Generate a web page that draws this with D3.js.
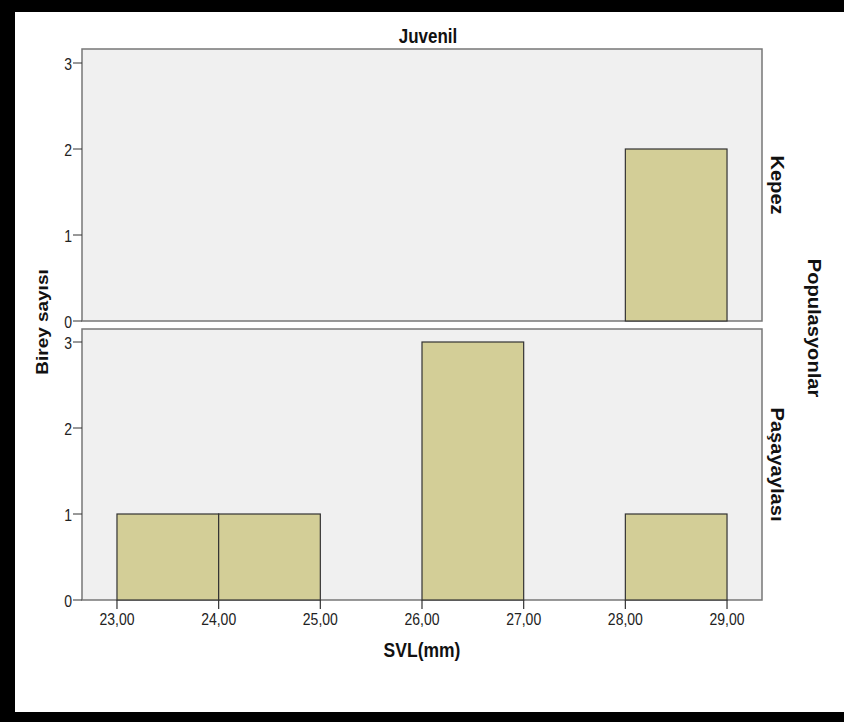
<!DOCTYPE html>
<html lang="en">
<head>
<meta charset="UTF-8">
<title>Juvenil SVL histogram</title>
<script src="https://d3js.org/d3.v7.min.js"></script>
<style>
  body { margin: 0; background: #fff; }
  svg text { font-family: Arial, "Liberation Sans", sans-serif; }
</style>
</head>
<body>
<div id="chart"></div>
<script>
// bin edges and counts per population
const populations = ["Kepez", "Paşayaylası"];
const binStarts = [23, 24, 26, 28];
const kepezCounts = [0, 0, 0, 2];
const pasaCounts = [1, 1, 3, 1];
const xTicks = [23, 24, 25, 26, 27, 28, 29];
const yTicks = [0, 1, 2, 3];

const W = 844, H = 722;
const stretch = 1.15; // text in the source is a little taller than wide
const svg = d3.select("#chart").append("svg").attr("width", W).attr("height", H);

// black frame (left, top, bottom)
svg.append("rect").attr("x", 0).attr("y", 0).attr("width", 15).attr("height", H).attr("fill", "#000");
svg.append("rect").attr("x", 0).attr("y", 0).attr("width", W).attr("height", 12).attr("fill", "#000");
svg.append("rect").attr("x", 0).attr("y", 712).attr("width", W).attr("height", 10).attr("fill", "#000");

// helper for stretched text
function label(x, y, rot, size, bold, anchor, txt) {
  const sc = rot === 0 ? `scale(1,${stretch})` : `scale(${stretch},1)`;
  return svg.append("text")
    .attr("transform", `translate(${x},${y}) rotate(${rot}) ${sc}`)
    .attr("text-anchor", anchor).attr("font-size", size)
    .attr("font-weight", bold ? "bold" : "normal")
    .attr("fill", bold ? "#111" : "#222").text(txt);
}

const left = 82, right = 762;
const panels = [
  { name: populations[0], counts: kepezCounts, top: 49, bottom: 321 },
  { name: populations[1], counts: pasaCounts, top: 329, bottom: 600 }
];

const x = d3.scaleLinear().domain([22.656, 29.344]).range([left, right]);
const fmt = d => d.toFixed(2).replace(".", ",");

panels.forEach((p, i) => {
  const y = d3.scaleLinear().domain([0, 3]).range([p.bottom, p.bottom - 258]);
  const g = svg.append("g");
  g.append("rect").attr("x", left).attr("y", p.top)
    .attr("width", right - left).attr("height", p.bottom - p.top)
    .attr("fill", "#f0f0f0").attr("stroke", "#777").attr("stroke-width", 1.5);

  g.selectAll("rect.bar")
    .data(binStarts.map((s, j) => ({ s, c: p.counts[j] })).filter(d => d.c > 0))
    .enter().append("rect").attr("class", "bar")
    .attr("x", d => x(d.s)).attr("width", d => x(d.s + 1) - x(d.s))
    .attr("y", d => y(d.c)).attr("height", d => y(0) - y(d.c))
    .attr("fill", "#d3ce97").attr("stroke", "#333").attr("stroke-width", 1.2);

  // y ticks
  yTicks.forEach(t => {
    g.append("line").attr("x1", left - 9).attr("x2", left).attr("y1", y(t)).attr("y2", y(t))
      .attr("stroke", "#333").attr("stroke-width", 1);
    label(left - 10, y(t) + 7, 0, 14, false, "end", t);
  });

  if (i === 1) {
    xTicks.forEach(t => {
      g.append("line").attr("x1", x(t)).attr("x2", x(t)).attr("y1", p.bottom).attr("y2", p.bottom + 9)
        .attr("stroke", "#333").attr("stroke-width", 1.2);
      label(x(t), 625, 0, 14, false, "middle", fmt(t));
    });
  }

  // strip label
  label(771, (p.top + p.bottom) / 2, 90, 17.5, true, "middle", p.name);
});

label(428, 43, 0, 17, true, "middle", "Juvenil");
label(422, 657, 0, 17.5, true, "middle", "SVL(mm)");
label(48, 322, -90, 16.5, true, "middle", "Birey sayısı");
label(808, 328, 90, 17.5, true, "middle", "Populasyonlar");
</script>
</body>
</html>
